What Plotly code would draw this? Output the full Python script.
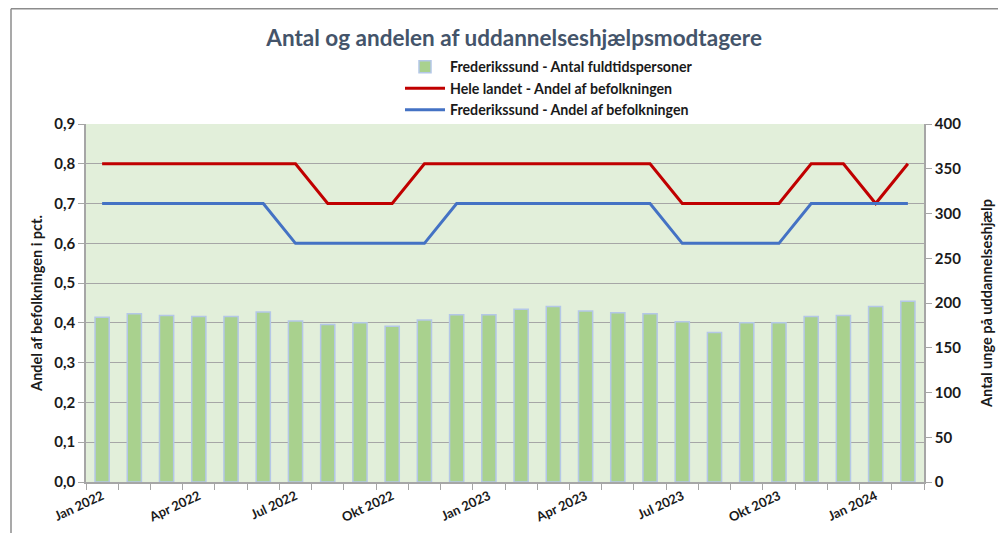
import plotly.graph_objects as go

# Data
MAANEDER = ["Jan", "Feb", "Mar", "Apr", "Maj", "Jun", "Jul", "Aug", "Sep", "Okt", "Nov", "Dec"]
perioder = [f"{m} {aar}" for aar in (2022, 2023) for m in MAANEDER] + ["Jan 2024", "Feb 2024"]

antal_frederikssund = [184, 188, 186, 185, 185, 190, 180, 176, 178, 174, 181, 187, 187,
                       193, 196, 191, 189, 188, 179, 167, 178, 178, 185, 186, 196, 202]
andel_hele_landet = [0.8] * 7 + [0.7] * 3 + [0.8] * 8 + [0.7] * 4 + [0.8, 0.8, 0.7, 0.8]
andel_frederikssund = [0.7] * 6 + [0.6] * 5 + [0.7] * 7 + [0.6] * 4 + [0.7] * 4

label_idx = list(range(0, len(perioder), 3))

GROEN = "#A9D18E"
KANT = "#B4C7E7"
ROED = "#C00000"
BLAA = "#4472C4"
GRIS = "#A6A6A6"
TEKST = "#1a1a1a"
FONT = "Lato"

x = list(range(len(perioder)))

fig = go.Figure()
fig.add_bar(
    x=x, y=antal_frederikssund, yaxis="y2",
    name="Frederikssund - Antal fuldtidspersoner",
    marker=dict(color=GROEN, line=dict(color=KANT, width=1.5)),
    width=0.44,
)
fig.add_trace(go.Scatter(
    x=x, y=andel_hele_landet, mode="lines",
    name="Hele landet - Andel af befolkningen",
    line=dict(color=ROED, width=3),
))
fig.add_trace(go.Scatter(
    x=x, y=andel_frederikssund, mode="lines",
    name="Frederikssund - Andel af befolkningen",
    line=dict(color=BLAA, width=3),
))

# siden har 8 px body-margen, så alt er regnet i sidekoordinater minus 8
OFF = 8
FW, FH = 1006 - OFF, 533 - OFF
L, T, W, H = 86 - OFF, 124 - OFF, 838, 358
px = lambda v: (v - OFF - L) / W
py = lambda v: (T + H - (v - OFF)) / H

# ydre ramme (som i Excel)
ramme = [
    dict(x0=px(11), x1=px(1010), y0=py(8.8), y1=py(8.8)),
    dict(x0=px(11), x1=px(11), y0=py(8.8), y1=py(540)),
]
shapes = [dict(type="line", xref="paper", yref="paper", line=dict(color="#8c8c8c", width=1.5), **r)
          for r in ramme]

fig.update_layout(
    width=FW, height=FH,
    margin=dict(l=L, r=FW - L - W, t=T, b=FH - T - H, autoexpand=False),
    paper_bgcolor="white", plot_bgcolor="#E2EFDA",
    separators=",.",
    font=dict(family=FONT, color=TEKST, size=13),
    title=dict(text="<b>Antal og andelen af uddannelseshjælpsmodtagere</b>",
               x=px(511), xanchor="center", y=1 - (38 - OFF) / FH, yanchor="middle",
               font=dict(size=22.5, color="#44546A", family=FONT)),
    legend=dict(x=px(400), y=py(51), xanchor="left", yanchor="top",
                bgcolor="rgba(0,0,0,0)", font=dict(size=14.2, weight="bold"),
                tracegroupgap=0, itemwidth=40),
    showlegend=True,
    shapes=shapes,
    bargap=0.56,
)

fig.update_xaxes(
    range=[-0.5, len(perioder) - 0.5],
    tickvals=label_idx, ticktext=[perioder[i] for i in label_idx],
    tickangle=-25, ticks="", showgrid=False,
    tickfont=dict(size=13, weight="bold"),
    showline=True, linecolor=GRIS, linewidth=1.5,
    minor=dict(tickvals=[i - 0.5 for i in range(len(perioder) + 1)],
               ticks="outside", ticklen=6, tickcolor=GRIS, showgrid=False),
    zeroline=False,
)
fig.update_yaxes(
    range=[0, 0.9], dtick=0.1, tickformat=".1f",
    title=dict(text="<b>Andel af befolkningen i pct.</b>", font=dict(size=14.5), standoff=8),
    tickfont=dict(size=15, weight="bold"),
    showgrid=True, gridcolor=GRIS, gridwidth=1.2,
    showline=True, linecolor=GRIS, linewidth=1.5,
    ticks="outside", ticklen=6, tickcolor=GRIS, zeroline=False,
)
fig.update_layout(
    yaxis2=dict(
        overlaying="y", side="right", range=[0, 400], dtick=50,
        title=dict(text="<b>Antal unge på uddannelseshjælp</b>", font=dict(size=14.5), standoff=22),
        tickfont=dict(size=15, weight="bold"),
        showgrid=False, showline=True, linecolor=GRIS, linewidth=1.5,
        ticks="outside", ticklen=6, tickcolor=GRIS, zeroline=False,
    )
)

fig.write_html("out.html")
